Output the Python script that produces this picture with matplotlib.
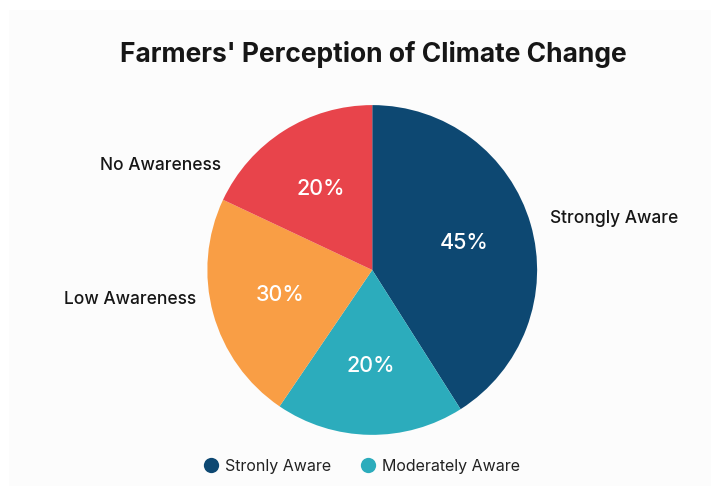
"""Pie chart: farmers' perception of climate change."""
import matplotlib
matplotlib.use("Agg")
import matplotlib.pyplot as plt
import numpy as np
from matplotlib.lines import Line2D
from matplotlib.patches import Rectangle

categories = ["Strongly Aware", "Moderately Aware", "Low Awareness", "No Awareness"]
# wedge sizes as drawn in the picture; the printed labels do not add up to 100
shares = [41, 18.5, 22.5, 18]
pct_labels = ["45%", "20%", "30%", "20%"]
legend_labels = ["Stronly Aware", "Moderately Aware"]
colors = ["#0d4872", "#2cacbc", "#f99e45", "#e8444b"]

plt.rcParams["font.family"] = ["Inter", "DejaVu Sans"]

fig = plt.figure(figsize=(7.2, 4.86), dpi=100)
fig.patches.append(Rectangle((0.0125, 0.0), 0.975, 0.98, transform=fig.transFigure,
                             facecolor="#fcfcfc", edgecolor="none", zorder=-1))

ax = fig.add_axes([0.288, 0.105, 0.458, 0.679])
wedges, texts = ax.pie(shares, colors=colors, startangle=90, counterclock=False,
                       wedgeprops=dict(linewidth=0))
ax.set_xlim(-1, 1)
ax.set_ylim(-1, 1)
ax.set_aspect("equal")

# percentage text inside each wedge
for w, lab in zip(wedges, pct_labels):
    mid = np.deg2rad((w.theta1 + w.theta2) / 2)
    ax.text(0.58 * np.cos(mid), 0.58 * np.sin(mid), lab, ha="center", va="center",
            color="white", fontsize=15.5, fontweight="medium")

# outer category labels (Moderately Aware has none in the original)
outer = {"Strongly Aware": (1.08, 0.315, "left"),
         "No Awareness": (-0.92, 0.636, "right"),
         "Low Awareness": (-1.07, -0.18, "right")}
for name, (x, y, ha) in outer.items():
    ax.text(x, y, name, ha=ha, va="center", fontsize=12.5, fontweight="medium",
            color="#161616", clip_on=False)

fig.text(0.518, 0.887, "Farmers' Perception of Climate Change", ha="center",
         va="center", fontsize=19, fontweight="bold", color="#161616")

handles = [Line2D([], [], marker="o", linestyle="none", markersize=11,
                  markerfacecolor=colors[i], markeredgewidth=0) for i in range(2)]
fig.legend(handles, legend_labels, loc="center", bbox_to_anchor=(0.502, 0.04),
           ncol=2, frameon=False, fontsize=11.5, handlelength=1.0,
           handletextpad=0.4, columnspacing=1.8, labelcolor="#222222")

fig.savefig("out.png", dpi=100, facecolor="white")
